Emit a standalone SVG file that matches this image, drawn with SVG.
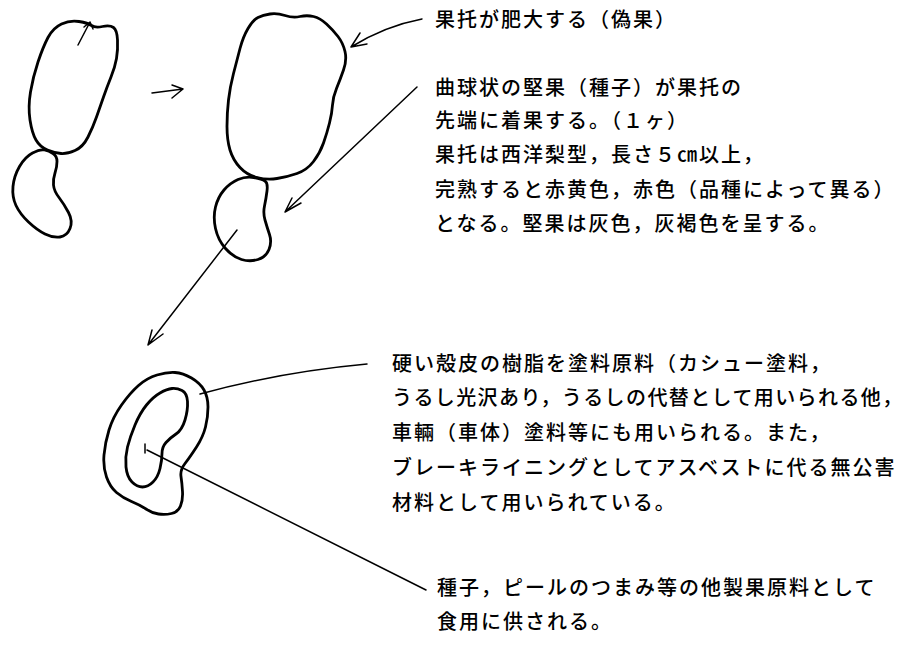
<svg xmlns="http://www.w3.org/2000/svg" width="915" height="659" viewBox="0 0 915 659">
  <style>
    .outline { fill: none; stroke: #000; stroke-width: 2.8; stroke-linejoin: round; stroke-linecap: round; }
    .wire { fill: none; stroke: #000; stroke-width: 1.5; stroke-linecap: round; stroke-linejoin: round; }
    .note { font-family: "Noto Sans CJK JP", "Noto Sans", sans-serif; font-size: 20px; font-weight: 500; letter-spacing: 2px; fill: #000; }
    .tight { letter-spacing: 1.4px; }
  </style>
  <rect width="915" height="659" fill="#fff"/>

  <!-- young fruit: receptacle with nut -->
  <g id="young-fruit">
    <path class="outline" d="M 61.5,24 Q 70,20 79,21.5 Q 88,23 91.5,25.5 Q 95,28 102.5,26.5 Q 110,25 113.5,27.5 Q 117,30 117.5,40 Q 118,50 116.5,58.5 Q 115,67 111,77 Q 107,87 103.5,97 Q 100,107 96.5,117 Q 93,127 88,137 Q 83,147 75,150.5 Q 67,154 61,153.5 Q 55,153 47.5,150 Q 40,147 36,140 Q 32,133 30,120 Q 28,107 30.5,92 Q 33,77 38,62 Q 43,47 48,37.5 Q 53,28 61.5,24 Z"/>
    <path class="outline" d="M 32.5,153 Q 25,157 19.5,166.5 Q 14,176 13,186.5 Q 12,197 16,205.5 Q 20,214 28.5,222 Q 37,230 45,234 Q 53,238 60,237 Q 67,236 70,228.5 Q 73,221 68.5,212.5 Q 64,204 59,197.5 Q 54,191 53.5,185 Q 53,179 55,173 Q 57,167 57,161.5 Q 57,156 53,153.5 Q 49,151 44.5,150 Q 40,149 32.5,153 Z"/>
    <path class="wire" d="M 78,45 L 90,22 M 84,27 L 90,22 L 93,29"/>
  </g>

  <!-- ripe fruit: swollen receptacle with nut -->
  <g id="ripe-fruit">
    <path class="outline" d="M 258,17.5 Q 263,15 270,14 Q 277,13 285,15.5 Q 293,18 300,16.5 Q 307,15 313.5,16.5 Q 320,18 326.5,24 Q 333,30 338,36.5 Q 343,43 345,51.5 Q 347,60 343.5,70 Q 340,80 336.5,88.5 Q 333,97 332.5,105 Q 332,113 329.5,123 Q 327,133 323.5,143 Q 320,153 313.5,161.5 Q 307,170 297,173.5 Q 287,177 277,178.5 Q 267,180 257,177.5 Q 247,175 240,167.5 Q 233,160 230,150 Q 227,140 227,126.5 Q 227,113 228.5,100 Q 230,87 233.5,73.5 Q 237,60 240,48.5 Q 243,37 248,28.5 Q 253,20 258,17.5 Z"/>
    <path class="outline" d="M 238,179.5 Q 230,183 224,190 Q 218,197 215.5,207 Q 213,217 215.5,228.5 Q 218,240 225.5,248.5 Q 233,257 241.5,259.5 Q 250,262 258,259.5 Q 266,257 269,249.5 Q 272,242 269.5,234.5 Q 267,227 265,220 Q 263,213 264.5,206 Q 266,199 267,191 Q 268,183 265,181 Q 262,179 254,177.5 Q 246,176 238,179.5 Z"/>
  </g>

  <!-- nut in section: shell and kernel -->
  <g id="nut-section">
    <path class="outline" d="M 175,372.5 Q 183,373 191.5,378 Q 200,383 204,390 Q 208,397 208,407 Q 208,417 205.5,427 Q 203,437 196.5,447 Q 190,457 185,463.5 Q 180,470 181,476.5 Q 182,483 182.5,491.5 Q 183,500 180.5,506 Q 178,512 171.5,513.5 Q 165,515 158.5,514 Q 152,513 146,509 Q 140,505 131.5,501.5 Q 123,498 116.5,492.5 Q 110,487 106.5,477 Q 103,467 104,455 Q 105,443 109,430 Q 113,417 121.5,405 Q 130,393 138.5,385.5 Q 147,378 157,375 Q 167,372 175,372.5 Z"/>
    <path class="outline" d="M 182,390.5 Q 187,393 187.5,401.5 Q 188,410 185,420 Q 182,430 176,434 Q 170,438 166,442.5 Q 162,447 162,453.5 Q 162,460 160,468.5 Q 158,477 153,482 Q 148,487 142.5,487 Q 137,487 132,482 Q 127,477 126,467 Q 125,457 127.5,447 Q 130,437 135,425 Q 140,413 146.5,405 Q 153,397 160,393 Q 167,389 172,388.5 Q 177,388 182,390.5 Z"/>
    <path class="wire" d="M 145,444 L 145,453"/>
  </g>

  <!-- arrows and leader lines -->
  <g id="connectors">
    <path class="wire" d="M 152,93 L 183,89 M 172,85 L 183,89 L 172,98"/>
    <path class="wire" d="M 422,19 Q 385,26 351,47 M 360,33 L 351,47 L 367,44"/>
    <path class="wire" d="M 417,87 L 285,212 M 292,198 L 285,212 L 301,203"/>
    <path class="wire" d="M 237,230 L 148,345 M 152,330 L 148,345 L 163,334"/>
    <path class="wire" d="M 200,394 Q 280,372 367,364"/>
    <path class="wire" d="M 147,450 L 426,590"/>
  </g>

  <g id="label-receptacle">
    <text class="note" x="435" y="27">果托が肥大する（偽果）</text>
  </g>

  <g id="label-nut">
    <text class="note" x="435" y="95">曲球状の堅果（種子）が果托の</text>
    <text class="note" x="435" y="128">先端に着果する。（１ヶ）</text>
    <text class="note" x="435" y="162">果托は西洋梨型，長さ５㎝以上，</text>
    <text class="note" x="435" y="197">完熟すると赤黄色，赤色（品種によって異る）</text>
    <text class="note" x="435" y="231">となる。堅果は灰色，灰褐色を呈する。</text>
  </g>

  <g id="label-shell">
    <text class="note" x="392" y="371">硬い殻皮の樹脂を塗料原料（カシュー塗料，</text>
    <text class="note tight" x="392" y="405">うるし光沢あり，うるしの代替として用いられる他，</text>
    <text class="note" x="392" y="440">車輛（車体）塗料等にも用いられる。また，</text>
    <text class="note" x="392" y="475">ブレーキライニングとしてアスベストに代る無公害</text>
    <text class="note" x="392" y="510">材料として用いられている。</text>
  </g>

  <g id="label-kernel">
    <text class="note" x="437" y="595">種子，ピールのつまみ等の他製果原料として</text>
    <text class="note" x="437" y="629">食用に供される。</text>
  </g>
</svg>
